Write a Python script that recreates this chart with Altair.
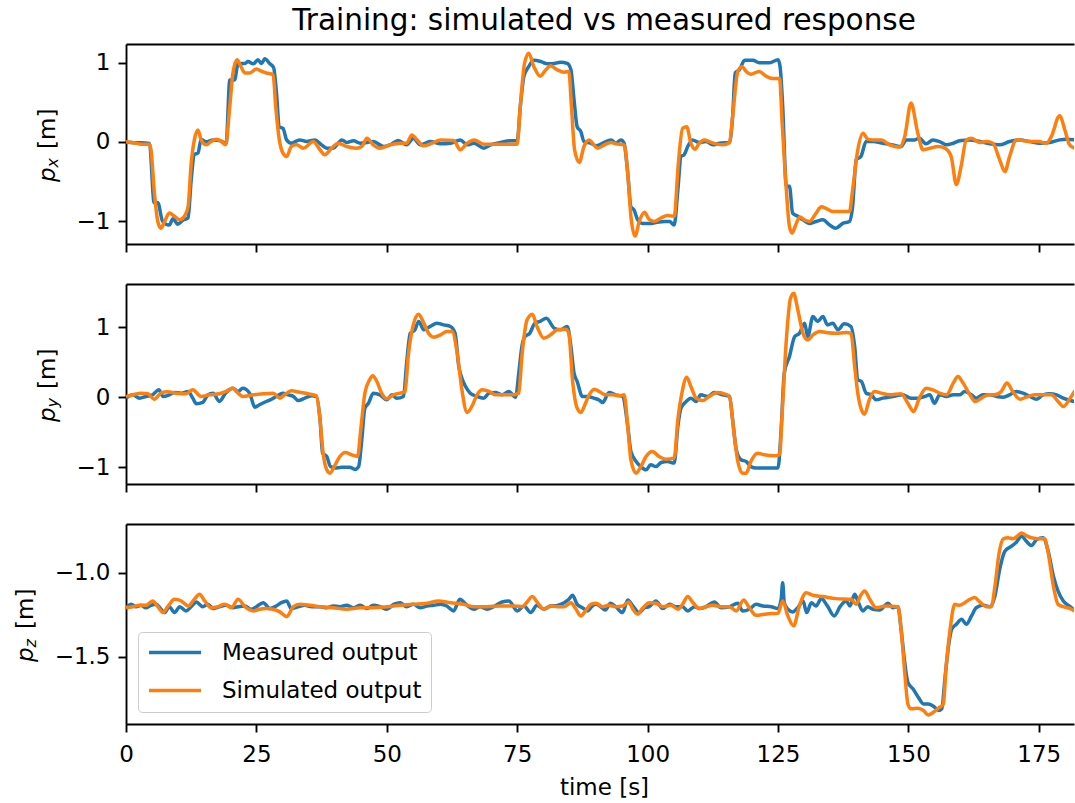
import altair as alt
import pandas as pd

TITLE = "Training: simulated vs measured response"
SERIES = ["Measured output", "Simulated output"]
COLORS = ["#1f77b4", "#ff7f0e"]
X_TICKS = [0, 25, 50, 75, 100, 125, 150, 175]
X_TITLE = "time [s]"
X_MAX = 181.75

PX_DOMAIN = [-1.29, 1.236]
PY_DOMAIN = [-1.238, 1.613]
PZ_DOMAIN = [-1.90, -0.71]
PX_TICKS = [-1, 0, 1]
PY_TICKS = [-1, 0, 1]
PZ_TICKS = [-1.5, -1.0]
Y_SUBSCRIPTS = ["x", "y", "z"]

# (time [s], value [m])
PX_MEASURED = [(0, 0.0), (1.5, -0.01), (3, -0.01), (4.5, -0.02), (5.4, -0.77), (6.1, -0.77), (7.0, -1.0), (8.3, -1.05), (9.0, -0.97), (9.9, -1.04),
    (10.9, -0.99), (11.9, -0.96), (12.5, -0.48), (13.1, -0.16), (13.8, -0.14), (14.4, 0.03), (15.4, 0.0), (16.7, 0.025), (17.9, 0.017), (19.2, -0.017),
    (19.9, 0.78), (20.8, 0.78), (21.5, 0.99), (22.8, 0.99), (23.4, 1.015), (24.4, 0.985), (25.3, 1.036), (26.0, 0.99), (26.6, 1.05), (27.6, 0.985),
    (28.3, 0.94), (28.8, 0.66), (29.4, 0.19), (30.1, 0.17), (30.8, 0.025), (31.7, -0.017), (33.3, 0.025), (34.6, 0.004), (36.2, 0.025), (37.5, -0.038),
    (38.5, -0.08), (39.7, -0.08), (41.4, 0.025), (42.3, -0.008), (43.6, 0.013), (44.9, -0.017), (46.2, -0.008), (47.4, 0.004), (49.4, -0.059), (50.6, -0.038),
    (52.2, 0.017), (53.8, -0.038), (55.1, 0.046), (56.4, -0.038), (58.3, 0.004), (60.3, -0.025), (62.2, -0.017), (64.1, 0.025), (65.4, -0.038), (66.7, -0.017),
    (68.6, -0.08), (69.9, -0.038), (71.8, -0.008), (73.7, 0.013), (75.0, 0.013), (75.6, 0.45), (76.3, 0.83), (77.2, 0.95), (78.2, 1.03), (79.5, 1.015),
    (80.8, 0.985), (82.1, 0.99), (83.3, 1.006), (84.6, 0.99), (85.3, 0.91), (85.9, 0.53), (86.5, 0.19), (87.2, 0.13), (87.8, 0.004), (89.1, -0.017),
    (90.1, -0.05), (91.4, -0.017), (93.0, 0.025), (93.9, -0.017), (94.9, 0.025), (95.5, -0.017), (96.2, -0.40), (96.8, -0.82), (97.4, -0.86), (98.1, -0.985),
    (99.0, -1.03), (100.3, -1.03), (101.6, -1.02), (103.2, -1.006), (104.2, -1.006), (105.1, -1.05), (105.8, -0.61), (106.4, -0.185), (107.0, -0.164), (107.7, -0.059),
    (108.6, 0.025), (109.9, -0.008), (111.2, 0.004), (112.5, -0.038), (113.8, -0.017), (115.7, -0.008), (116.3, 0.32), (116.8, 0.87), (117.6, 0.91), (118.6, 1.03),
    (120.2, 1.03), (121.4, 1.0), (123.4, 1.0), (125.0, 1.036), (125.4, 0.95), (125.9, 0.45), (126.6, -0.56), (127.2, -0.56), (127.8, -0.90), (128.8, -0.94),
    (129.8, -0.985), (131.0, -1.03), (132.3, -1.006), (133.6, -0.985), (134.9, -1.05), (136.1, -1.09), (137.4, -1.03), (138.7, -1.006), (139.3, -0.82), (140.0, -0.227),
    (140.9, -0.185), (141.9, 0.004), (143.2, 0.004), (145.1, -0.017), (147.0, -0.038), (148.6, -0.059), (149.6, 0.025), (151.2, 0.025), (152.1, 0.046), (153.4, -0.025),
    (154.7, 0.025), (156.0, 0.004), (157.3, -0.038), (158.6, -0.017), (159.8, 0.013), (161.7, 0.025), (163.7, 0.004), (165.6, -0.025), (167.5, -0.038), (169.4, 0.004),
    (171.4, 0.025), (173.3, 0.004), (175.2, -0.017), (177.1, -0.008), (179.0, 0.025), (180.3, 0.034), (181.9, 0.025)]

PX_SIMULATED = [(0, 0.0), (1.5, -0.01), (3, -0.03), (4.5, -0.03), (4.8, -0.10), (5.4, -0.61), (6.1, -1.006), (6.7, -1.09), (7.4, -1.006), (8.3, -0.90),
    (9.3, -0.94), (10.3, -0.985), (11.2, -0.94), (11.9, -0.82), (12.5, -0.27), (13.1, 0.025), (13.8, 0.15), (14.4, 0.025), (15.4, -0.038), (16.3, 0.004),
    (17.3, 0.034), (18.3, 0.004), (19.1, -0.038), (19.9, 0.45), (20.5, 0.87), (21.3, 1.036), (21.9, 0.97), (22.8, 0.87), (23.7, 0.87), (25.0, 0.92),
    (26.0, 0.89), (26.9, 0.87), (28.2, 0.85), (28.7, 0.45), (29.4, 0.025), (30.1, -0.143), (30.8, -0.185), (31.7, -0.059), (32.7, -0.038), (34.0, -0.08),
    (35.9, 0.004), (37.2, -0.10), (38.1, -0.164), (39.4, -0.08), (40.7, -0.017), (42.3, -0.059), (44.2, -0.08), (45.2, -0.059), (46.2, 0.046), (47.4, -0.038),
    (48.7, -0.08), (50.6, -0.038), (52.6, -0.017), (53.8, -0.017), (54.8, 0.088), (55.8, 0.025), (57.0, -0.05), (58.7, -0.017), (60.3, 0.025), (62.8, 0.017),
    (64.1, -0.10), (65.4, -0.017), (66.7, 0.025), (68.6, -0.029), (71.2, -0.029), (75.0, -0.029), (75.6, 0.45), (76.4, 0.99), (77.2, 1.12), (78.2, 0.95),
    (79.4, 0.83), (80.5, 0.91), (81.4, 0.96), (82.7, 0.91), (84.0, 0.88), (84.9, 0.89), (85.4, 0.45), (86.0, -0.10), (86.9, -0.26), (87.8, -0.059),
    (88.8, 0.025), (89.7, -0.038), (90.4, -0.08), (91.7, -0.038), (93.0, -0.008), (93.9, -0.025), (95.5, -0.038), (96.2, -0.40), (96.8, -0.94), (97.6, -1.19),
    (98.4, -1.006), (99.4, -0.89), (100.3, -0.98), (101.3, -1.006), (102.6, -0.96), (103.8, -0.93), (105.1, -0.94), (105.9, -0.27), (106.7, 0.17), (107.5, 0.19),
    (108.3, -0.017), (109.1, -0.093), (109.9, -0.017), (110.9, 0.025), (111.8, 0.004), (113.1, -0.025), (114.4, -0.038), (115.7, -0.008), (116.3, 0.32), (117.3, 0.89),
    (118.1, 0.95), (118.9, 0.89), (119.8, 0.855), (121.4, 0.89), (122.7, 0.83), (124.0, 0.80), (125.3, 0.80), (125.8, 0.24), (126.6, -0.61), (127.2, -1.07),
    (127.7, -1.15), (128.5, -1.03), (129.2, -0.95), (130.1, -0.985), (131.0, -1.006), (132.3, -0.90), (133.3, -0.82), (134.2, -0.84), (135.5, -0.88), (137.4, -0.88),
    (138.7, -0.88), (139.3, -0.61), (140.3, -0.10), (141.3, 0.11), (142.2, 0.034), (143.2, 0.025), (144.8, 0.025), (146.4, -0.038), (148.3, -0.067), (149.3, 0.067),
    (150.5, 0.49), (151.8, 0.11), (152.8, -0.10), (154.1, -0.08), (155.7, -0.059), (157.0, -0.08), (158.2, -0.185), (159.2, -0.54), (160.1, -0.31), (161.1, 0.025),
    (162.1, 0.046), (163.7, -0.008), (165.0, 0.004), (166.2, -0.017), (167.5, -0.227), (168.5, -0.375), (169.4, -0.185), (170.7, 0.025), (172.0, 0.017), (173.3, 0.004),
    (174.9, 0.004), (176.5, -0.017), (177.4, 0.067), (179.0, 0.33), (180.0, 0.15), (180.9, -0.038), (181.9, -0.08)]

PY_MEASURED = [(0, -0.014), (1.3, 0.033), (2.6, -0.014), (3.8, 0.01), (5.1, 0.033), (6.3, 0.105), (7.1, 0.01), (8.3, 0.033), (9.3, 0.067), (10.6, 0.057),
    (11.9, 0.081), (12.8, -0.014), (13.5, -0.095), (14.7, -0.076), (15.7, 0.033), (16.7, 0.057), (17.9, -0.062), (19.1, 0.057), (20.5, 0.128), (21.5, 0.081),
    (22.4, 0.128), (23.7, 0.057), (24.7, -0.143), (25.6, -0.109), (26.9, -0.062), (27.9, -0.029), (28.8, 0.01), (30.1, 0.057), (31.1, 0.033), (32.1, 0.01),
    (33.0, -0.048), (34.3, -0.014), (35.6, 0.019), (36.5, 0.01), (37.2, -0.32), (37.7, -0.80), (38.5, -0.846), (39.2, -0.99), (40.1, -1.01), (41.3, -1.0),
    (42.9, -1.0), (43.9, -1.03), (44.6, -0.99), (45.2, -0.61), (45.8, -0.157), (46.5, -0.086), (47.4, 0.057), (48.7, 0.033), (50.0, -0.038), (51.0, 0.033),
    (51.9, -0.014), (53.2, 0.01), (53.8, 0.485), (54.5, 0.91), (55.4, 0.96), (56.1, 1.08), (57.1, 0.96), (58.3, 1.007), (59.6, 1.055), (60.9, 1.03),
    (62.2, 1.007), (63.1, 0.91), (63.8, 0.437), (64.4, 0.27), (65.1, 0.152), (66.0, 0.057), (67.3, 0.01), (68.6, -0.014), (69.6, 0.057), (70.8, 0.067),
    (72.1, 0.033), (73.4, 0.081), (74.7, 0.0), (75.3, 0.342), (75.9, 0.722), (76.5, 0.865), (77.4, 0.91), (78.4, 1.055), (79.4, 1.08), (80.6, 1.126),
    (82.1, 0.983), (83.3, 0.96), (84.6, 1.007), (85.3, 0.722), (85.9, 0.342), (86.5, 0.223), (87.5, 0.01), (88.5, 0.01), (89.7, -0.014), (90.7, -0.04),
    (91.4, -0.076), (92.6, 0.067), (93.9, 0.033), (95.2, 0.01), (96.2, -0.418), (96.8, -0.774), (97.8, -0.917), (98.7, -0.99), (99.7, -1.036), (100.6, -0.964),
    (101.6, -0.99), (102.6, -0.931), (103.8, -0.917), (105.1, -0.94), (105.8, -0.418), (106.4, -0.157), (107.4, -0.062), (108.3, -0.014), (109.3, -0.062), (110.2, 0.033),
    (111.5, 0.01), (112.8, 0.067), (114.4, 0.033), (115.7, 0.01), (116.3, -0.32), (117.0, -0.75), (117.9, -0.893), (118.9, -0.917), (119.8, -0.99), (120.8, -1.01),
    (122.1, -1.01), (123.7, -1.01), (125.0, -1.01), (125.6, -0.466), (126.2, 0.342), (127.2, 0.58), (128.2, 0.865), (129.1, 0.91), (130.1, 1.055), (130.7, 0.865),
    (131.7, 1.15), (132.6, 1.08), (133.6, 1.15), (134.5, 1.03), (135.5, 1.055), (136.5, 0.96), (137.7, 1.045), (139.0, 1.007), (139.7, 0.722), (140.3, 0.247),
    (141.0, 0.223), (141.9, 0.057), (142.9, 0.033), (143.8, -0.038), (145.1, -0.014), (147.0, 0.01), (148.9, 0.033), (150.5, -0.014), (151.8, -0.014), (153.1, 0.01),
    (154.1, 0.033), (155.0, -0.086), (156.0, 0.033), (157.3, 0.01), (158.6, 0.033), (159.8, 0.033), (160.8, 0.081), (162.1, 0.033), (163.0, -0.014), (164.3, 0.033),
    (165.6, 0.033), (166.9, 0.01), (168.2, 0.0), (169.4, 0.033), (170.7, 0.081), (172.0, 0.057), (173.3, 0.01), (174.6, -0.029), (175.8, 0.033), (177.1, 0.048),
    (178.4, 0.033), (179.7, -0.014), (181.0, -0.048), (181.9, -0.062)]

PY_SIMULATED = [(0, 0.01), (1.3, 0.033), (2.9, 0.057), (4.2, 0.048), (5.4, -0.029), (6.7, 0.057), (8.0, 0.076), (9.6, 0.057), (11.5, 0.048), (12.8, 0.105),
    (14.4, 0.01), (16.0, 0.033), (17.9, 0.048), (19.2, 0.081), (20.4, 0.128), (21.5, 0.057), (22.4, 0.01), (24.4, 0.033), (26.3, 0.048), (28.2, 0.057),
    (29.5, -0.014), (30.4, 0.033), (31.7, 0.09), (33.3, 0.071), (34.9, 0.048), (36.5, 0.019), (37.2, -0.32), (37.8, -0.80), (38.5, -1.036), (39.1, -1.083),
    (40.1, -0.964), (41.0, -0.846), (42.0, -0.789), (43.3, -0.822), (44.4, -0.846), (45.0, -0.466), (45.8, 0.057), (46.7, 0.247), (47.3, 0.304), (48.1, 0.223),
    (49.0, 0.057), (50.0, -0.024), (51.3, 0.033), (52.6, 0.057), (53.5, 0.081), (54.1, 0.58), (55.0, 1.007), (56.1, 1.183), (57.1, 1.055), (58.0, 0.91),
    (59.0, 0.855), (60.3, 0.888), (61.5, 0.936), (62.5, 0.936), (63.5, 0.627), (64.4, 0.105), (65.4, -0.219), (66.3, -0.133), (67.3, 0.033), (68.3, 0.105),
    (69.6, 0.081), (70.8, 0.033), (72.4, 0.033), (74.0, 0.033), (75.3, 0.057), (75.9, 0.58), (76.9, 1.102), (77.9, 1.183), (78.8, 1.007), (80.1, 0.84),
    (81.4, 0.888), (82.7, 0.96), (84.3, 0.969), (84.9, 0.91), (85.6, 0.247), (86.5, -0.157), (87.2, -0.219), (88.1, -0.086), (88.8, 0.033), (89.8, 0.114),
    (90.7, 0.081), (92.0, 0.033), (93.3, 0.033), (94.6, 0.019), (95.5, 0.033), (96.2, -0.418), (96.8, -0.893), (97.8, -1.083), (98.7, -0.99), (99.7, -0.846),
    (100.9, -0.774), (102.2, -0.846), (103.5, -0.884), (105.1, -0.869), (105.8, -0.323), (106.7, 0.105), (107.5, 0.285), (108.3, 0.152), (109.3, -0.014), (110.6, -0.048),
    (111.8, 0.01), (113.4, 0.067), (114.7, 0.048), (115.7, 0.01), (116.5, -0.466), (117.3, -0.917), (118.2, -1.083), (118.9, -1.083), (119.8, -0.917), (121.1, -0.80),
    (122.4, -0.822), (124.0, -0.836), (125.3, -0.822), (125.8, -0.228), (126.6, 0.817), (127.4, 1.41), (128.0, 1.48), (128.8, 1.245), (129.8, 0.91), (130.7, 0.817),
    (131.7, 0.888), (133.0, 0.936), (134.2, 0.922), (136.1, 0.91), (138.1, 0.922), (139.0, 0.91), (139.7, 0.437), (140.3, 0.057), (141.0, -0.18), (141.6, -0.242),
    (142.5, -0.038), (143.5, 0.081), (144.8, 0.057), (146.4, 0.033), (148.6, 0.048), (149.9, -0.086), (151.0, -0.204), (152.1, -0.014), (153.4, 0.128), (154.7, 0.105),
    (156.0, 0.057), (157.3, 0.033), (158.6, 0.2), (159.5, 0.295), (160.5, 0.2), (161.8, 0.033), (162.8, -0.062), (164.0, -0.014), (165.3, 0.033), (166.5, 0.033),
    (167.8, 0.081), (168.9, 0.2), (170.0, 0.081), (171.4, -0.029), (172.6, 0.0), (174.2, 0.033), (175.8, 0.033), (177.4, 0.033), (178.7, -0.062), (179.7, -0.133),
    (181.0, -0.014), (181.9, 0.09)]

PZ_MEASURED = [(0, -1.208), (1.0, -1.188), (1.9, -1.202), (2.9, -1.194), (3.8, -1.208), (4.8, -1.194), (5.8, -1.188), (6.5, -1.208), (7.4, -1.237), (8.3, -1.202),
    (9.3, -1.237), (10.3, -1.202), (11.5, -1.227), (12.5, -1.202), (13.5, -1.174), (14.7, -1.202), (15.7, -1.188), (16.7, -1.213), (17.9, -1.202), (19.2, -1.194),
    (20.5, -1.208), (21.5, -1.202), (22.8, -1.198), (24.0, -1.217), (25.0, -1.202), (26.3, -1.178), (27.6, -1.213), (28.8, -1.198), (29.8, -1.178), (30.8, -1.168),
    (31.7, -1.213), (33.0, -1.202), (34.3, -1.194), (35.6, -1.202), (37.2, -1.202), (38.5, -1.208), (39.7, -1.198), (41.0, -1.202), (42.3, -1.194), (43.6, -1.208),
    (44.9, -1.194), (46.2, -1.213), (47.4, -1.194), (48.7, -1.202), (50.0, -1.217), (51.3, -1.188), (52.6, -1.178), (53.8, -1.202), (55.1, -1.188), (56.4, -1.208),
    (57.7, -1.198), (59.0, -1.194), (60.3, -1.188), (61.5, -1.198), (62.8, -1.227), (64.0, -1.158), (65.4, -1.194), (66.7, -1.217), (67.9, -1.202), (69.2, -1.217),
    (70.5, -1.202), (72.1, -1.174), (73.4, -1.168), (75.0, -1.227), (76.3, -1.198), (77.6, -1.237), (78.8, -1.194), (80.1, -1.217), (81.4, -1.198), (82.7, -1.194),
    (84.0, -1.178), (84.9, -1.158), (85.6, -1.134), (86.5, -1.188), (87.5, -1.208), (88.5, -1.227), (89.4, -1.198), (90.1, -1.188), (91.0, -1.202), (91.9, -1.221),
    (92.9, -1.182), (93.9, -1.202), (95.2, -1.237), (96.2, -1.162), (97.1, -1.194), (98.4, -1.237), (99.4, -1.208), (100.3, -1.202), (101.6, -1.168), (102.9, -1.213),
    (104.2, -1.188), (105.4, -1.202), (106.7, -1.202), (107.7, -1.227), (109.0, -1.202), (109.9, -1.213), (111.2, -1.202), (112.8, -1.174), (114.1, -1.208), (115.7, -1.202),
    (117.3, -1.182), (118.2, -1.227), (119.5, -1.217), (120.8, -1.188), (122.1, -1.198), (123.7, -1.202), (125.0, -1.213), (125.6, -1.158), (125.9, -1.059), (126.2, -1.178),
    (126.9, -1.217), (127.8, -1.233), (128.8, -1.208), (129.8, -1.168), (130.5, -1.237), (131.4, -1.178), (132.3, -1.198), (133.3, -1.154), (134.4, -1.194), (135.8, -1.257),
    (136.9, -1.202), (138.1, -1.168), (138.8, -1.198), (139.7, -1.128), (140.3, -1.168), (141.3, -1.227), (142.2, -1.202), (143.2, -1.217), (144.5, -1.221), (146.1, -1.182),
    (147.0, -1.208), (148.0, -1.202), (148.6, -1.336), (149.3, -1.534), (149.9, -1.652), (150.9, -1.692), (151.9, -1.741), (152.9, -1.781), (153.8, -1.781), (154.8, -1.794),
    (155.8, -1.82), (156.4, -1.81), (157.0, -1.632), (157.7, -1.435), (158.3, -1.336), (159.2, -1.306), (160.2, -1.277), (161.1, -1.306), (162.1, -1.257), (163.0, -1.208),
    (164.3, -1.194), (165.6, -1.202), (166.6, -1.138), (167.5, -0.98), (168.5, -0.872), (169.8, -0.842), (170.7, -0.818), (171.7, -0.783), (172.6, -0.812), (173.6, -0.838),
    (174.6, -0.802), (175.8, -0.792), (176.8, -0.872), (177.8, -1.02), (178.7, -1.109), (179.7, -1.168), (181.0, -1.202), (181.9, -1.227)]

PZ_SIMULATED = [(0, -1.208), (1.3, -1.202), (2.6, -1.194), (3.8, -1.194), (5.1, -1.168), (6.1, -1.202), (7.1, -1.237), (8.0, -1.202), (9.3, -1.158), (10.6, -1.168),
    (11.9, -1.198), (13.1, -1.158), (14.1, -1.128), (15.1, -1.168), (16.3, -1.208), (17.6, -1.202), (18.9, -1.188), (20.2, -1.208), (21.5, -1.158), (22.8, -1.202),
    (24.4, -1.227), (25.6, -1.217), (26.9, -1.213), (28.2, -1.217), (29.5, -1.233), (30.8, -1.261), (32.1, -1.202), (33.3, -1.188), (35.3, -1.194), (37.2, -1.202),
    (39.7, -1.208), (42.3, -1.217), (44.9, -1.208), (47.4, -1.208), (50.0, -1.202), (52.6, -1.194), (55.1, -1.188), (57.7, -1.182), (59.9, -1.168), (62.2, -1.178),
    (64.7, -1.188), (66.7, -1.202), (69.2, -1.202), (71.8, -1.198), (74.4, -1.198), (76.0, -1.202), (76.9, -1.174), (77.9, -1.142), (78.8, -1.174), (80.1, -1.217),
    (81.4, -1.198), (82.7, -1.202), (84.0, -1.202), (85.3, -1.178), (86.2, -1.213), (87.2, -1.257), (88.1, -1.227), (89.1, -1.188), (90.1, -1.182), (91.4, -1.202),
    (92.6, -1.194), (93.9, -1.202), (95.2, -1.198), (96.4, -1.174), (97.1, -1.213), (98.1, -1.247), (99.0, -1.213), (100.3, -1.178), (101.6, -1.182), (102.9, -1.202),
    (104.5, -1.194), (105.8, -1.217), (106.7, -1.188), (107.7, -1.142), (108.6, -1.174), (109.9, -1.213), (111.2, -1.202), (112.5, -1.194), (114.1, -1.202), (115.7, -1.202),
    (117.0, -1.227), (118.4, -1.162), (119.5, -1.208), (120.8, -1.253), (122.4, -1.247), (123.7, -1.243), (125.0, -1.241), (125.9, -1.168), (126.9, -1.257), (128.0, -1.316),
    (129.1, -1.198), (130.4, -1.119), (131.7, -1.134), (133.6, -1.142), (136.1, -1.154), (139.0, -1.158), (140.0, -1.188), (140.8, -1.138), (141.6, -1.109), (142.6, -1.158),
    (143.8, -1.208), (145.7, -1.198), (148.0, -1.202), (148.6, -1.336), (149.3, -1.593), (149.9, -1.781), (150.5, -1.81), (151.9, -1.806), (152.9, -1.82), (153.8, -1.846),
    (154.8, -1.83), (156.0, -1.80), (156.7, -1.781), (157.2, -1.573), (158.0, -1.336), (158.9, -1.188), (159.8, -1.194), (160.8, -1.178), (161.8, -1.158), (162.7, -1.148),
    (163.7, -1.174), (165.0, -1.202), (165.9, -1.202), (166.6, -1.079), (167.4, -0.881), (168.2, -0.798), (169.1, -0.792), (170.1, -0.798), (171.0, -0.779), (171.7, -0.763),
    (172.6, -0.779), (173.6, -0.792), (174.9, -0.798), (176.1, -0.798), (176.8, -0.881), (177.8, -1.079), (178.7, -1.188), (179.7, -1.202), (181.0, -1.213), (181.9, -1.227)]

FONT = "DejaVu Sans"
W, H = 948, 200
LINE_W = 3.5


def frame(pairs, name):
    return pd.DataFrame({"t": [p[0] for p in pairs], "v": [p[1] for p in pairs], "series": name})


def text_layer(txt, x, y, size, italic):
    mark = dict(angle=270, align="left", baseline="alphabetic", font=FONT, fontSize=size, color="black")
    if italic:
        mark["fontStyle"] = "italic"
    return alt.Chart(pd.DataFrame({"s": [txt]})).mark_text(**mark).encode(
        x=alt.value(x), y=alt.value(y), text="s:N")


def panel(meas, sim, ydom, yticks, yfmt, sub, tx, last):
    xscale = alt.Scale(domain=[0, X_MAX], nice=False, zero=False)
    yscale = alt.Scale(domain=ydom, nice=False, zero=False)
    cscale = alt.Scale(domain=SERIES, range=COLORS)
    if last:
        legend = alt.Legend(orient="bottom-left", offset=12, title=None, symbolType="stroke",
                            symbolSize=2704, symbolStrokeWidth=LINE_W, clipHeight=23, rowPadding=14,
                            padding=9, labelOffset=19, labelFont=FONT, labelFontSize=23,
                            labelColor="black", strokeColor="#cccccc",
                            fillColor="rgba(255,255,255,0.8)", cornerRadius=4, labelLimit=400)
        bottom_axis = alt.Axis(values=X_TICKS, labelFlush=False, title=X_TITLE, titleX=478,
                               labelPadding=11, titlePadding=10)
    else:
        legend = None
        bottom_axis = alt.Axis(values=X_TICKS, labels=False, title=None)
    top_axis = alt.Axis(orient="top", labels=False, ticks=False, domain=True, title=None)
    left_axis = alt.Axis(values=yticks, format=yfmt, title=None)

    line = dict(strokeWidth=LINE_W, clip=True, interpolate="monotone", strokeJoin="round")
    m = alt.Chart(frame(meas, SERIES[0])).mark_line(**line).encode(
        x=alt.X("t:Q", scale=xscale, axis=bottom_axis),
        y=alt.Y("v:Q", scale=yscale, axis=left_axis),
        color=alt.Color("series:N", scale=cscale, legend=legend),
    )
    s = alt.Chart(frame(sim, SERIES[1])).mark_line(**line).encode(
        x=alt.X("t:Q", scale=xscale, axis=top_axis),
        y=alt.Y("v:Q", scale=yscale, axis=left_axis),
        color=alt.Color("series:N", scale=cscale, legend=legend),
    )
    t1 = text_layer("p", tx, 138, 23, True)
    t2 = text_layer(sub, tx + 3.5, 123.5, 16, True)
    t3 = text_layer("[m]", tx, 105, 23, False)
    return alt.layer(m, s, t1, t2, t3).resolve_axis(x="independent").properties(width=W, height=H)


p1 = panel(PX_MEASURED, PX_SIMULATED, PX_DOMAIN, PX_TICKS, "d", Y_SUBSCRIPTS[0], -71.5, False).properties(
    title=alt.TitleParams(TITLE, font=FONT, fontSize=29.5, fontWeight="normal", color="black",
                          anchor="middle", frame="group", offset=-15, baseline="alphabetic", dx=4))
p2 = panel(PY_MEASURED, PY_SIMULATED, PY_DOMAIN, PY_TICKS, "d", Y_SUBSCRIPTS[1], -71.5, False)
p3 = panel(PZ_MEASURED, PZ_SIMULATED, PZ_DOMAIN, PZ_TICKS, ".1f", Y_SUBSCRIPTS[2], -93.5, True)

chart = alt.vconcat(p1, p2, p3, spacing=29).resolve_legend(color="independent").properties(
    padding={"left": 14, "top": 5, "right": 0, "bottom": 4}, background="white"
).configure_view(stroke="transparent").configure_axis(
    labelFont=FONT, labelFontSize=23, labelColor="black", titleFont=FONT, titleFontSize=23,
    titleFontWeight="normal", titleColor="black", domainColor="black", domainWidth=1.9,
    tickColor="black", tickWidth=1.9, tickSize=8, labelPadding=8, titlePadding=6, grid=False
)

chart.save("out.html", embed_options={"renderer": "svg", "actions": False})
